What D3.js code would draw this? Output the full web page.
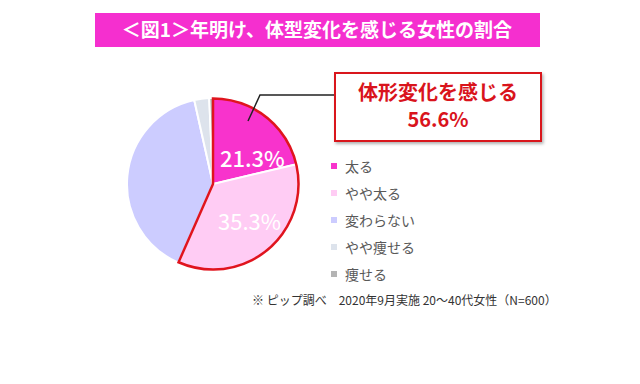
<!DOCTYPE html>
<html><head><meta charset="utf-8">
<script src="https://cdn.jsdelivr.net/npm/d3@7/dist/d3.min.js"></script>
<style>body{margin:0;background:#fff}svg{display:block}</style>
</head><body><svg id="c" width="640" height="384"></svg>
<script>
const categories = ["太る", "やや太る", "変わらない", "やや痩せる", "痩せる"];
const values = [21.3, 35.3, 39.9, 2.8, 0.7];
const colors = ["#f833cc", "#ffccf4", "#ccccff", "#dde3ec", "#b4b4b4"];
const titleText = "＜図1＞年明け、体型変化を感じる女性の割合";
const calloutLines = ["体形変化を感じる", "56.6%"];
const footnote = "※ ピップ調べ　2020年9月実施 20～40代女性（N=600）";
const fontFam = "'Noto Sans CJK JP','Noto Sans',sans-serif";

const svg = d3.select("#c");
const defs = svg.append("defs");
const f = defs.append("filter").attr("id","sh").attr("x","-10%").attr("y","-10%").attr("width","130%").attr("height","140%");
f.append("feDropShadow").attr("dx",1.5).attr("dy",2).attr("stdDeviation",1.5).attr("flood-color","#000").attr("flood-opacity",0.3);

// title
svg.append("rect").attr("x",95).attr("y",13).attr("width",445).attr("height",34).attr("fill","#f52fcf");
svg.append("text").attr("x",317).attr("y",37).attr("text-anchor","middle").attr("fill","#fff")
  .attr("font-family",fontFam).attr("font-weight","bold").attr("font-size",19).text(titleText);

const cx = 213, cy = 184, R = 86;
const g = svg.append("g").attr("transform",`translate(${cx},${cy})`);
const pie = d3.pie().sort(null).value(d=>d);
const arcs = pie(values);
const arc = d3.arc().innerRadius(0).outerRadius(R);
g.selectAll("path.s").data(arcs).join("path").attr("class","s")
  .attr("d",arc).attr("fill",(d,i)=>colors[i]).attr("stroke","#fff").attr("stroke-width",2);

// red outline for first two slices
const outlineArc = d3.arc().innerRadius(0).outerRadius(R-0.5)
  .startAngle(arcs[0].startAngle).endAngle(arcs[1].endAngle);
g.append("path").attr("d",outlineArc()).attr("fill","none").attr("stroke","#e0141e").attr("stroke-width",2.5)
  .attr("stroke-linejoin","miter");

// labels
const lab = d3.arc().innerRadius(R*0.5).outerRadius(R*0.9);
const offs = [[2,20],[-2,-10]];
[0,1].forEach(i=>{
  const c = lab.centroid(arcs[i]);
  g.append("text").attr("x",c[0]+offs[i][0]).attr("y",c[1]+offs[i][1]).attr("text-anchor","middle").attr("dominant-baseline","central")
   .attr("fill","#fff").attr("font-family",fontFam).attr("font-weight",i==0?"500":"normal").attr("font-size",22)
   .text(values[i].toFixed(1)+"%");
});

// leader line
svg.append("polyline").attr("points","248,121 260,95 335,95").attr("fill","none").attr("stroke","#222").attr("stroke-width",1.5);

// callout
svg.append("rect").attr("x",335).attr("y",73).attr("width",206).attr("height",68).attr("fill","#fff")
  .attr("stroke","#d9141c").attr("stroke-width",2).attr("filter","url(#sh)");
calloutLines.forEach((t,i)=>{
  svg.append("text").attr("x",438).attr("y",100+i*27).attr("text-anchor","middle").attr("fill","#d9141c")
   .attr("font-family",fontFam).attr("font-weight","bold").attr("font-size",20).text(t);
});

// legend
const lg = svg.append("g");
categories.forEach((c,i)=>{
  const y = 166 + i*27;
  lg.append("rect").attr("x",331).attr("y",y-3).attr("width",6).attr("height",6).attr("fill",colors[i]);
  lg.append("text").attr("x",345).attr("y",y).attr("dominant-baseline","central").attr("fill","#595959")
    .attr("font-family",fontFam).attr("font-size",14).text(c);
});

svg.append("text").attr("x",252).attr("y",305).attr("fill","#333").attr("font-family",fontFam).attr("font-size",12).text(footnote);
</script></body></html>
